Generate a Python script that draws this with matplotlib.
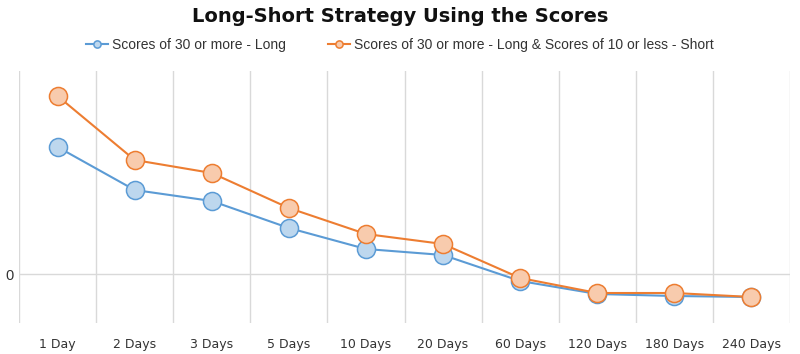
import numpy as np
import matplotlib.pyplot as plt

periods = ['1 Day', '2 Days', '3 Days', '5 Days', '10 Days', '20 Days',
           '60 Days', '120 Days', '180 Days', '240 Days']
long_only = [2.54, 1.68, 1.46, 0.92, 0.50, 0.38, -0.14, -0.40, -0.44, -0.46]
long_short = [3.56, 2.28, 2.02, 1.32, 0.80, 0.60, -0.08, -0.38, -0.38, -0.46]

plt.rcParams['font.family'] = ['Liberation Sans', 'DejaVu Sans']

fig = plt.figure(figsize=(8, 3.54), dpi=100)
ax = fig.add_axes([19/800, 31/354, 771/800, 252/354])

x = np.arange(len(periods))
ax.plot(x, long_only, color='#5B9BD5', lw=1.5, marker='o', ms=13,
        mfc='#BDD7EE', mec='#5B9BD5', mew=1.1, label='Scores of 30 or more - Long', zorder=3)
ax.plot(x, long_short, color='#ED7D31', lw=1.5, marker='o', ms=13,
        mfc='#F8CBAD', mec='#ED7D31', mew=1.1,
        label='Scores of 30 or more - Long & Scores of 10 or less - Short', zorder=4)

ax.set_xlim(-0.5, len(periods) - 0.5)
ax.set_ylim(-0.98, 4.06)
ax.set_xticks(x)
ax.set_xticklabels(periods, fontsize=9, color='#333333', family='DejaVu Sans')
ax.set_xticks(np.arange(-0.5, len(periods)), minor=True)
ax.set_yticks([0])
ax.set_yticklabels(['0'], fontsize=10.5, color='#333333')
ax.tick_params(axis='both', which='both', length=0)
ax.tick_params(axis='x', pad=11)
ax.tick_params(axis='y', pad=4)
ax.grid(True, axis='x', which='minor', color='#d9d9d9', lw=1)
ax.grid(True, axis='y', which='major', color='#d9d9d9', lw=1)
for s in ax.spines.values():
    s.set_visible(False)
ax.set_axisbelow(True)

fig.text(0.5, 1 - 17/354, 'Long-Short Strategy Using the Scores', ha='center', va='center',
         fontsize=14, fontweight='bold', color='#111111', family='DejaVu Sans')
leg = fig.legend(*ax.get_legend_handles_labels(), loc='center', bbox_to_anchor=(0.5, 1 - 45/354),
                 ncol=2, frameon=False, fontsize=10, markerscale=0.4, handlelength=1.6,
                 handletextpad=0.3, columnspacing=3.0)
for t in leg.get_texts():
    t.set_color('#333333')

fig.savefig('out.png', dpi=100)
